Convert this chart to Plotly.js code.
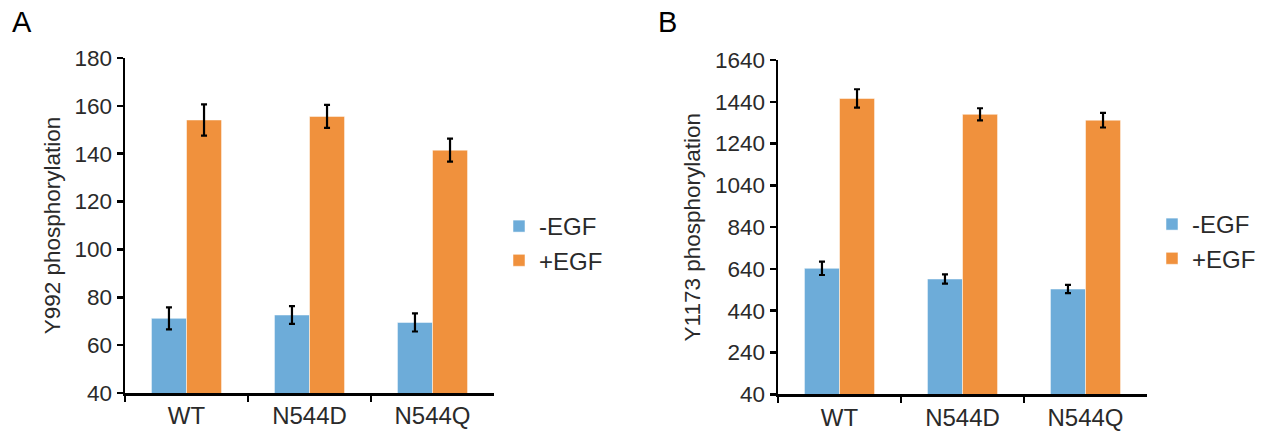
<!DOCTYPE html>
<html>
<head>
<meta charset="utf-8">
<script src="https://cdn.plot.ly/plotly-3.0.1.min.js"></script>
<style>html,body{margin:0;padding:0;background:#fff;}#chart{width:1269px;height:434px;}</style>
</head>
<body>
<div id="chart"></div>
<script>
const categories = ['WT', 'N544D', 'N544Q'];
const seriesNames = ['-EGF', '+EGF'];

// Panel A: Y992 phosphorylation
const aMinus = [71.2, 72.6, 69.5];
const aMinusErr = [4.6, 3.7, 3.8];
const aPlus = [154.1, 155.6, 141.5];
const aPlusErr = [6.5, 4.8, 4.8];
const aTicks = [40, 60, 80, 100, 120, 140, 160, 180];

// Panel B: Y1173 phosphorylation
const bMinus = [643, 592, 544];
const bMinusErr = [32, 22, 20];
const bPlus = [1456, 1380, 1352];
const bPlusErr = [44, 29, 35];
const bTicks = [40, 240, 440, 640, 840, 1040, 1240, 1440, 1640];

const blue = '#6DACD9';
const orange = '#F0913D';
const FONT = 'Liberation Sans, Arial, Helvetica, sans-serif';
const txt = '#2a2a2a';

function bar(name, y, err, color, xa, ya, legend) {
  return {
    type: 'bar', name: name, x: categories, y: y,
    xaxis: xa, yaxis: ya, legend: legend,
    marker: {color: color, line: {color: 'rgba(255,255,255,0.5)', width: 1}},
    error_y: {type: 'data', array: err, visible: true, color: '#000', thickness: 2.2, width: 3},
    hoverinfo: 'y'
  };
}

const data = [
  bar(seriesNames[0], aMinus, aMinusErr, blue, 'x', 'y', 'legend'),
  bar(seriesNames[1], aPlus, aPlusErr, orange, 'x', 'y', 'legend'),
  bar(seriesNames[0], bMinus, bMinusErr, blue, 'x2', 'y2', 'legend2'),
  bar(seriesNames[1], bPlus, bPlusErr, orange, 'x2', 'y2', 'legend2')
];

const W = 1269, H = 434;
function xax(l, r) {
  return {
    domain: [l / W, r / W], type: 'category',
    showline: true, linecolor: '#000', linewidth: 2.5,
    ticks: 'outside', tickson: 'boundaries', ticklen: 6, tickwidth: 2.5, tickcolor: '#000',
    tickfont: {family: FONT, size: 24, color: txt},
    showgrid: false, zeroline: false, fixedrange: true
  };
}
function yax(b, t, range, ticks, title, anchor) {
  return {
    domain: [1 - b / H, 1 - t / H], range: range, anchor: anchor,
    tickvals: ticks, ticktext: ticks.map(String),
    showline: true, linecolor: '#000', linewidth: 2.5,
    ticks: 'outside', ticklen: 6, tickwidth: 2.5, tickcolor: '#000',
    tickfont: {family: FONT, size: 22.5, color: txt},
    showgrid: false, zeroline: false, fixedrange: true,
    title: {text: title, font: {family: FONT, size: 22.5, color: txt}, standoff: 8}
  };
}

const layout = {
  width: W, height: H,
  margin: {l: 0, r: 0, t: 0, b: 0},
  paper_bgcolor: '#fff', plot_bgcolor: '#fff',
  barmode: 'group', bargap: 0.43, bargroupgap: 0,
  xaxis: Object.assign(xax(125, 494), {anchor: 'y'}),
  yaxis: yax(393, 58, [40, 180], aTicks, 'Y992 phosphorylation', 'x'),
  xaxis2: Object.assign(xax(778, 1147), {anchor: 'y2'}),
  yaxis2: yax(394.3, 60, [40, 1640], bTicks, 'Y1173 phosphorylation', 'x2'),
  legend: {x: 499 / W, y: 1 - 204 / H, xanchor: 'left', yanchor: 'top',
    font: {family: FONT, size: 24, color: txt}, itemwidth: 30, tracegroupgap: 0, bgcolor: 'rgba(0,0,0,0)'},
  legend2: {x: 1152 / W, y: 1 - 202 / H, xanchor: 'left', yanchor: 'top',
    font: {family: FONT, size: 24, color: txt}, itemwidth: 30, tracegroupgap: 0, bgcolor: 'rgba(0,0,0,0)'},
  annotations: [
    {text: 'A', xref: 'paper', yref: 'paper', x: 10 / W, y: 1 - 4 / H, xanchor: 'left', yanchor: 'top',
     showarrow: false, font: {family: FONT, size: 29, color: '#000'}},
    {text: 'B', xref: 'paper', yref: 'paper', x: 656 / W, y: 1 - 4 / H, xanchor: 'left', yanchor: 'top',
     showarrow: false, font: {family: FONT, size: 29, color: '#000'}}
  ]
};

Plotly.newPlot('chart', data, layout, {displayModeBar: false, staticPlot: true});
</script>
</body>
</html>
